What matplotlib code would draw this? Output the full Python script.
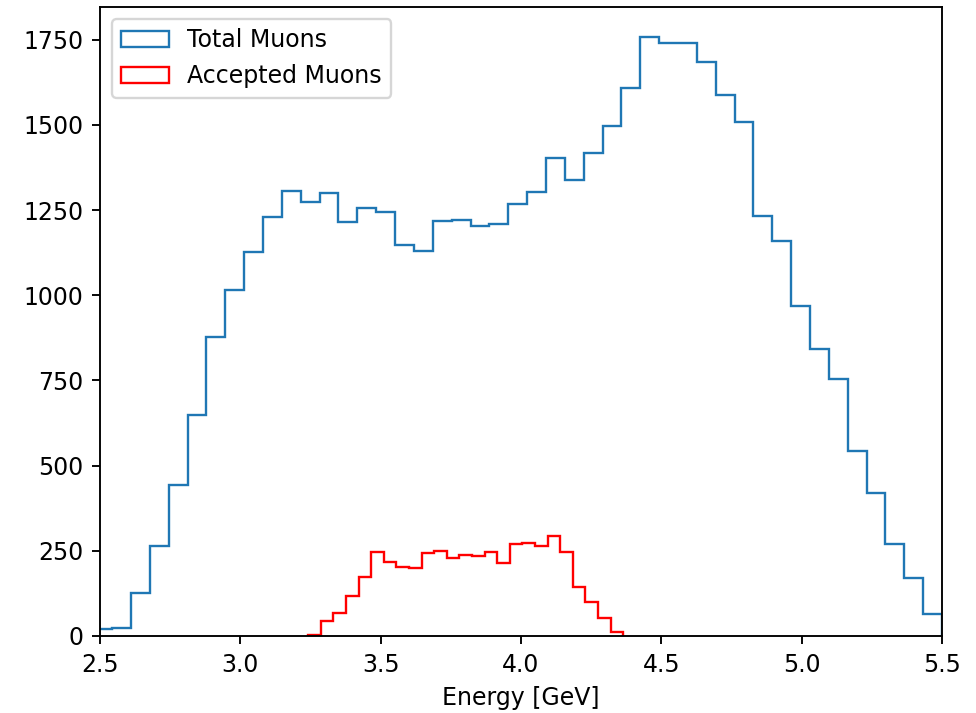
import numpy as np
import matplotlib
matplotlib.use("Agg")
import matplotlib.pyplot as plt

# bin edges (GeV)
total_edges = np.linspace(2.476, 5.5, 46)
accepted_edges = np.linspace(3.242, 4.364, 26)

# counts per bin
total_counts = [20, 24, 125, 264, 443, 649, 879, 1016, 1128, 1229,
                1306, 1273, 1299, 1215, 1257, 1244, 1148, 1130, 1218, 1221,
                1204, 1209, 1268, 1304, 1402, 1339, 1417, 1498, 1608, 1758,
                1742, 1742, 1684, 1587, 1508, 1234, 1159, 969, 843, 754,
                544, 419, 269, 169, 64]
accepted_counts = [3, 45, 68, 118, 173, 248, 218, 203, 199, 244,
                   249, 228, 239, 235, 248, 214, 269, 273, 265, 294,
                   248, 143, 101, 54, 11]

DPI = 170
fig = plt.figure(figsize=(976 / DPI, 713 / DPI), dpi=DPI)
ax = fig.add_axes([0.1025, 0.108, 0.8627, 0.882])

ax.hist(total_edges[:-1], bins=total_edges, weights=total_counts,
        histtype="step", color="C0", label="Total Muons")
ax.hist(accepted_edges[:-1], bins=accepted_edges, weights=accepted_counts,
        histtype="step", color="red", label="Accepted Muons")

ax.set_xlim(2.5, 5.5)
ax.set_ylim(0, 1846)
ax.set_xlabel("Energy [GeV]")
ax.legend(loc="upper left")

fig.savefig("out.png", dpi=DPI)
